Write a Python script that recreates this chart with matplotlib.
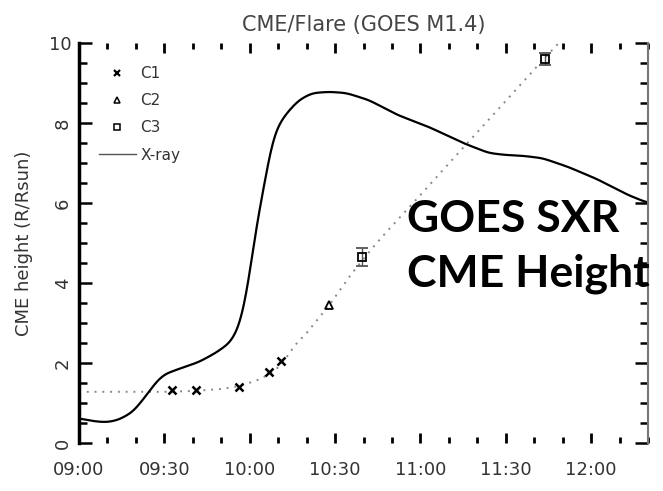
import numpy as np
import matplotlib.pyplot as plt
from matplotlib.ticker import MultipleLocator, FuncFormatter
from matplotlib.lines import Line2D

# times are minutes after 09:00 UT, heights in R/Rsun
xray_t = [0, 3, 7, 10, 14, 19, 24, 27, 30, 37, 42, 48, 53, 55.5, 57, 59, 61,
          62.7, 65, 66.2, 68, 70.4, 74, 77.4, 82, 88, 94, 102, 112, 123, 135,
          144, 150, 156, 163, 172, 182, 193, 200]
xray_h = [0.62, 0.57, 0.53, 0.52, 0.58, 0.78, 1.22, 1.52, 1.72, 1.9, 2.02,
          2.25, 2.5, 2.78, 3.08, 3.75, 4.75, 5.58, 6.4, 6.9, 7.58, 8.0, 8.33,
          8.58, 8.75, 8.78, 8.75, 8.57, 8.2, 7.9, 7.5, 7.25, 7.2, 7.18, 7.12,
          6.9, 6.6, 6.2, 6.0]

c1_t = [32.6, 41.3, 56.4, 66.9, 71.1]
c1_h = [1.32, 1.32, 1.4, 1.78, 2.05]
c2_t = [87.9]
c2_h = [3.45]
c3_t = [99.4, 163.8]
c3_h = [4.65, 9.6]
c3_err = [0.22, 0.15]

# height-time fit (dotted)
fit_t = [0, 30, 40, 50, 56, 62, 67, 71, 76, 80, 84, 88, 92, 96, 100, 104,
         108, 120, 135, 150, 164, 170]
fit_h = [1.28, 1.28, 1.3, 1.35, 1.42, 1.55, 1.72, 1.95, 2.45, 2.75, 3.1,
         3.45, 3.85, 4.25, 4.6, 4.95, 5.27, 6.2, 7.38, 8.55, 9.65, 10.1]


def hhmm(m, pos=None):
    m = int(round(m))
    return '%02d:%02d' % (9 + m // 60, m % 60)


def smooth(t, h, width=1.5):
    # resample and gaussian-smooth the read-off points so the curve isn't jagged
    tt = np.linspace(t[0], t[-1], 801)
    hh = np.interp(tt, t, h)
    dt = tt[1] - tt[0]
    k = np.arange(-int(4 * width / dt), int(4 * width / dt) + 1) * dt
    w = np.exp(-0.5 * (k / width) ** 2)
    w /= w.sum()
    n = len(k) // 2
    padded = np.concatenate([np.full(n, hh[0]), hh, np.full(n, hh[-1])])
    return tt, np.convolve(padded, w, mode='valid')


fig = plt.figure(figsize=(6.63, 4.91), dpi=100)
ax = fig.add_axes([79 / 663, 48 / 491, 569 / 663, 400 / 491])

ax.plot(fit_t, fit_h, color='#888888', lw=1.4, ls=(0, (1, 3)))
sx, sy = smooth(xray_t, xray_h)
ax.plot(sx, sy, color='black', lw=1.6)
ax.plot(c1_t, c1_h, ls='none', marker='x', ms=6, mew=1.8, color='black')
ax.plot(c2_t, c2_h, ls='none', marker='^', ms=6, mfc='none', mew=1.3,
        color='black')
ax.errorbar(c3_t, c3_h, yerr=c3_err, ls='none', marker='s', ms=6, mfc='none',
            mew=1.3, color='black', ecolor='#555555', elinewidth=1, capsize=4)

ax.set_xlim(0, 200)
ax.set_ylim(0, 10)

ax.spines['top'].set_visible(False)
ax.spines['bottom'].set_visible(False)
ax.spines['left'].set_linewidth(2.5)
ax.spines['right'].set_linewidth(1.5)
ax.spines['right'].set_color('#777777')

ax.xaxis.set_major_locator(MultipleLocator(30))
ax.xaxis.set_minor_locator(MultipleLocator(10))
ax.xaxis.set_major_formatter(FuncFormatter(hhmm))
ax.yaxis.set_major_locator(MultipleLocator(2))
ax.yaxis.set_minor_locator(MultipleLocator(0.5))

ax.tick_params(axis='x', which='both', direction='in', top=True, bottom=True,
               width=2, labelsize=13, labelcolor='#333333', pad=13)
ax.tick_params(axis='x', which='major', length=7)
ax.tick_params(axis='x', which='minor', length=4)
ax.tick_params(axis='y', which='both', direction='in', left=True, right=True,
               width=1.8, labelsize=13, labelcolor='#333333', pad=5)
ax.tick_params(axis='y', which='major', length=9.5)
ax.tick_params(axis='y', which='minor', length=6)

for t in ax.yaxis.get_major_ticks() + ax.yaxis.get_minor_ticks():
    t.tick2line.set_color('#777777')

fig.canvas.draw()
for lbl in ax.get_yticklabels():
    if lbl.get_text() != '10':
        lbl.set_rotation(90)
        lbl.set_va('center')

ax.set_ylabel('CME height (R/Rsun)', fontsize=13, color='#333333', labelpad=12)
ax.set_title('CME/Flare (GOES M1.4)', fontsize=15, color='#444444', pad=9)

handles = [
    Line2D([], [], ls='none', marker='x', ms=5, mew=1.6, color='black'),
    Line2D([], [], ls='none', marker='^', ms=5, mfc='none', mew=1.1,
           color='black'),
    Line2D([], [], ls='none', marker='s', ms=5, mfc='none', mew=1.1,
           color='black'),
    Line2D([], [], color='#555555', lw=1),
]
ax.legend(handles, ['C1', 'C2', 'C3', 'X-ray'], loc='upper left',
          bbox_to_anchor=(99 / 663, 1 - 66 / 491),
          bbox_transform=fig.transFigure, frameon=False, fontsize=11,
          labelcolor='#333333', handlelength=2.4, handletextpad=0.3,
          borderpad=0, borderaxespad=0, labelspacing=0.8)

fig.text(0.614, 1 - 232 / 491, 'GOES SXR', fontsize=32, fontweight='bold',
         family='Lato', color='black')
fig.text(0.614, 1 - 287 / 491, 'CME Height', fontsize=32, fontweight='bold',
         family='Lato', color='black')

fig.savefig('out.png', dpi=100)
